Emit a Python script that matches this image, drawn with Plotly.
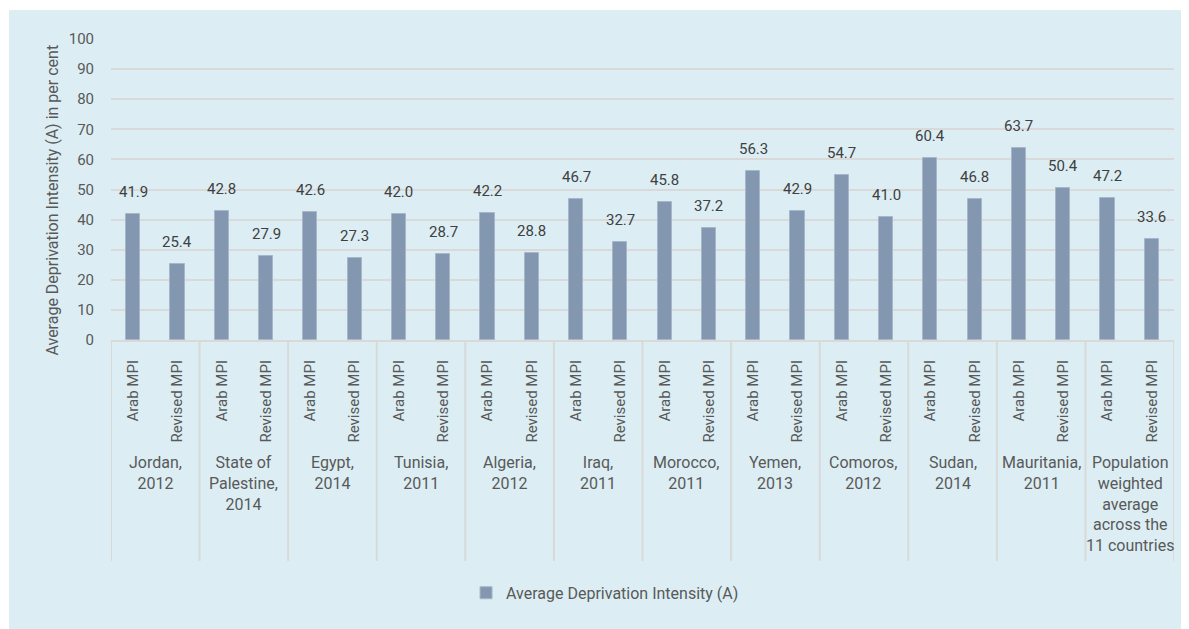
import plotly.graph_objects as go

groups = ["Jordan,<br>2012", "State of<br>Palestine,<br>2014", "Egypt,<br>2014", "Tunisia,<br>2011",
          "Algeria,<br>2012", "Iraq,<br>2011", "Morocco,<br>2011", "Yemen,<br>2013",
          "Comoros,<br>2012", "Sudan,<br>2014", "Mauritania,<br>2011",
          "Population<br>weighted<br>average<br>across the<br>11 countries"]
measures = ["Arab MPI", "Revised MPI"]
arab_mpi = [41.9, 42.8, 42.6, 42.0, 42.2, 46.7, 45.8, 56.3, 54.7, 60.4, 63.7, 47.2]
revised_mpi = [25.4, 27.9, 27.3, 28.7, 28.8, 32.7, 37.2, 42.9, 41.0, 46.8, 50.4, 33.6]
series_name = "Average Deprivation Intensity (A)"
y_title = "Average Deprivation Intensity (A) in per cent"

FONT = "Roboto, Arial, sans-serif"
TXT = "#595959"
BAR = "#8497B0"
GRID = "#D9D9D9"
BG = "#DCEEF4"

xs, ys, labels = [], [], []
for i in range(len(groups)):
    for j, vals in enumerate([arab_mpi, revised_mpi]):
        xs.append(2 * i + j)
        ys.append(vals[i])
        labels.append(measures[j])

fig = go.Figure()
fig.add_trace(go.Bar(x=xs, y=ys, name=series_name, width=0.32,
                     marker=dict(color=BAR, line=dict(color="#A7B6CA", width=1)),
                     showlegend=True))

annotations = []
for x, y in zip(xs, ys):
    annotations.append(dict(x=x, y=y, xref="x", yref="y", text=f"{y:.1f}", showarrow=False,
                            yanchor="bottom", yshift=11,
                            font=dict(family=FONT, size=15, color="#404040")))
for i, g in enumerate(groups):
    annotations.append(dict(x=2 * i + 0.5, y=-0.37, xref="x", yref="paper", text=g,
                            showarrow=False, yanchor="top", xanchor="center", align="center",
                            font=dict(family=FONT, size=16, color=TXT)))
annotations.append(dict(x=-0.055, y=0.465, xref="paper", yref="paper", text=y_title,
                        textangle=-90, showarrow=False, xanchor="center", yanchor="middle",
                        font=dict(family=FONT, size=16, color=TXT)))

# figure is placed 8px inside the page; background panel starts at page (9,10)
shapes = [dict(type="rect", xref="paper", yref="paper", x0=(1 - 103) / 1063, x1=1.02,
               y0=-1.0, y1=(340 - 10) / 301,
               fillcolor=BG, line=dict(width=0), layer="below")]
for k in range(len(groups) + 1):
    shapes.append(dict(type="line", xref="x", yref="paper", x0=2 * k - 0.5, x1=2 * k - 0.5,
                       y0=0, y1=-0.734, line=dict(color=GRID, width=2), layer="below"))

fig.update_layout(
    width=1181, height=621,
    margin=dict(l=103, r=15, t=31, b=289),
    paper_bgcolor="white", plot_bgcolor="rgba(0,0,0,0)",
    font=dict(family=FONT, color=TXT),
    bargap=0,
    showlegend=True,
    legend=dict(orientation="h", x=0.334, xanchor="left", y=-0.84, yanchor="middle",
                font=dict(family=FONT, size=16, color=TXT), bgcolor="rgba(0,0,0,0)",
                itemwidth=30),
    annotations=annotations,
    shapes=shapes,
)
fig.update_xaxes(range=[-0.5, 23.5], tickmode="array", tickvals=xs, ticktext=labels,
                 tickangle=-90, showgrid=False, zeroline=False, showline=True,
                 linecolor=GRID, linewidth=2, ticks="", ticklabelstandoff=12,
                 tickfont=dict(family=FONT, size=15, color=TXT))
fig.update_yaxes(range=[0, 100], dtick=10, showgrid=True, gridcolor=GRID, gridwidth=2,
                 zeroline=False, showline=False, ticks="", ticklabelstandoff=16,
                 tickfont=dict(family=FONT, size=15, color=TXT))

fig.write_html("out.html")
